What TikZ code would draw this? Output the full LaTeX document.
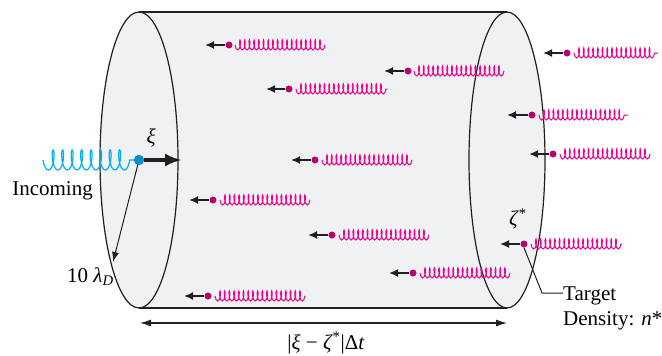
\documentclass[tikz,border=0pt]{standalone}
\usepackage{fontspec}
\setmainfont{Liberation Serif}
\usetikzlibrary{decorations.pathmorphing,arrows.meta}
\definecolor{tubefill}{HTML}{F0F1F3}
\definecolor{springpink}{HTML}{EC008C}
\definecolor{dotpink}{HTML}{B8006E}
\definecolor{springblue}{HTML}{00AEEF}
\definecolor{dotblue}{HTML}{0090CC}
\definecolor{ink}{HTML}{231F20}

\begin{document}
\begin{tikzpicture}[x=1pt,y=-1pt,
  outline/.style={draw=ink, line width=1.2pt},
  pdot/.style={circle, fill=dotpink, inner sep=0pt, minimum size=7pt},
  bdot/.style={circle, fill=dotblue, inner sep=0pt, minimum size=10pt},
  pspring/.style={draw=springpink, line width=1pt, decorate,
    decoration={coil, mirror, amplitude=5pt, segment length=4.7pt, aspect=0.3}},
  bspring/.style={draw=springblue, line width=1.2pt, decorate,
    decoration={coil, mirror, amplitude=10pt, segment length=9.5pt, aspect=0.3}},
  vel/.style={draw=ink, line width=2.2pt, -{Latex[length=9pt,width=8pt]}},
  bigvel/.style={draw=ink, line width=3.5pt, -{Latex[length=17pt,width=13pt]}},
  thin/.style={draw=ink, line width=1pt},
  lbl/.style={font=\fontsize{21}{25}\selectfont, inner sep=0pt},
]
\useasboundingbox (0,0) rectangle (662,356);

% cylinder body
\fill[tubefill] (139,12) rectangle (507,308);
\fill[tubefill] (139,160) ellipse [x radius=39, y radius=148];
\fill[tubefill] (507,160) ellipse [x radius=38, y radius=148];
\draw[outline] (139,160) ellipse [x radius=39, y radius=148];
\draw[outline] (507,160) ellipse [x radius=38, y radius=148];
\draw[outline] (139,12) -- (507,12);
\draw[outline] (139,308) -- (507,308);

% incoming particle
\node[bdot] (inc) at (139,160) {};
\coordinate (incstart) at (43,160);
\coordinate (inctip) at (182,160);
\coordinate (rim) at (113,262);
\draw[thin, -{Latex[length=10pt,width=7pt]}] (inc.center) -- (rim);
\draw[bspring] (incstart) -- (inc.center);
\node[bdot] at (inc) {};
\draw[bigvel] (inc) -- (inctip);

% target particles: index / x / y / arrow tip / spring start / spring end
\foreach \i/\x/\y/\t/\s/\e in {
  1/229/45/205/235/325,
  2/408/71/384/414/504,
  3/289/89/266/296/387,
  4/567/53/543/574/658,
  5/532/115/507/539/628,
  6/553/154/529/560/650,
  7/315/160/291/322/412,
  8/213/200/189/220/310,
  9/332/235/308/339/429,
  10/524/244/500/531/622,
  11/413/273/389/420/510,
  12/208/296/184/215/305}{
  \node[pdot] (p\i) at (\x,\y) {};
  \coordinate (t\i) at (\t,\y);
  \coordinate (s\i) at (\s,\y);
  \coordinate (e\i) at (\e,\y);
  \draw[vel] (p\i) -- (t\i);
  \draw[pspring] (s\i) -- (e\i);
}

% labels
\node[lbl, anchor=base east] (incoming) at (93,195) {Incoming};
\node[lbl] (xi) at (151,138) {\itshape ξ};
\node[lbl, anchor=base west] (debye) at (67,282) {10 \textit{λ}\textsubscript{\itshape D}};
\node[lbl] (zeta) at (518,219) {\textit{ζ}\textsuperscript{*}};
\node[lbl, anchor=base west] (target) at (563,300) {Target};
\node[lbl, anchor=base west] (density) at (563,325) {Density: \textit{n}*};

% leader to the target density label
\coordinate (kink) at (542,293);
\draw[thin] (p10.south) -- (kink) -- (kink -| target.west);

% length of the cylinder
\coordinate (lenL) at (140,323);
\coordinate (lenR) at (507,323);
\draw[thin, line width=1.1pt, {Latex[length=11pt,width=7pt]}-{Latex[length=11pt,width=7pt]}] (lenL) -- (lenR);
\node[lbl] (len) at (326,343) {|\textit{ξ} − \textit{ζ}\textsuperscript{*}|Δ\textit{t}};
\end{tikzpicture}
\end{document}
